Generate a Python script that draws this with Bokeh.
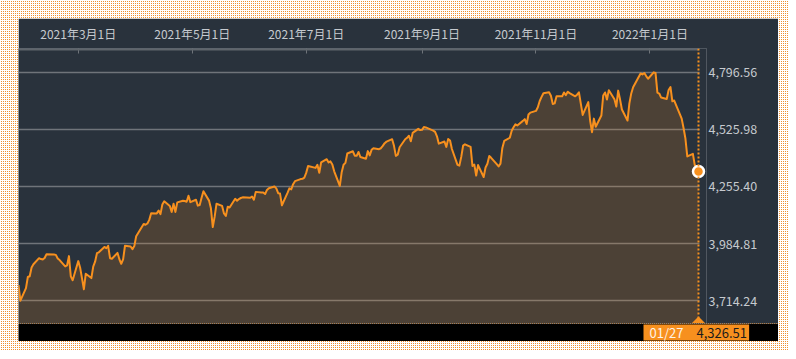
import pandas as pd
import numpy as np
from bokeh.plotting import figure
from bokeh.models import (Range1d, FixedTicker, NumeralTickFormatter, Span, Label,
                          BoxAnnotation, PolyAnnotation, ColumnDataSource)
from bokeh.layouts import column
from bokeh.embed import file_html
from bokeh.resources import INLINE

# ---------------- data ----------------
dates = [
    "2021-01-28", "2021-01-29",
    "2021-02-01", "2021-02-02", "2021-02-03", "2021-02-04", "2021-02-05", "2021-02-08", "2021-02-09", "2021-02-10", "2021-02-11", "2021-02-12",
    "2021-02-16", "2021-02-17", "2021-02-18", "2021-02-19", "2021-02-22", "2021-02-23", "2021-02-24", "2021-02-25", "2021-02-26",
    "2021-03-01", "2021-03-02", "2021-03-03", "2021-03-04", "2021-03-05", "2021-03-08", "2021-03-09", "2021-03-10", "2021-03-11", "2021-03-12",
    "2021-03-15", "2021-03-16", "2021-03-17", "2021-03-18", "2021-03-19", "2021-03-22", "2021-03-23", "2021-03-24", "2021-03-25", "2021-03-26",
    "2021-03-29", "2021-03-30", "2021-03-31",
    "2021-04-01", "2021-04-05", "2021-04-06", "2021-04-07", "2021-04-08", "2021-04-09", "2021-04-12", "2021-04-13", "2021-04-14", "2021-04-15",
    "2021-04-16", "2021-04-19", "2021-04-20", "2021-04-21", "2021-04-22", "2021-04-23", "2021-04-26", "2021-04-27", "2021-04-28", "2021-04-29",
    "2021-04-30",
    "2021-05-03", "2021-05-04", "2021-05-05", "2021-05-06", "2021-05-07", "2021-05-10", "2021-05-11", "2021-05-12", "2021-05-13", "2021-05-14",
    "2021-05-17", "2021-05-18", "2021-05-19", "2021-05-20", "2021-05-21", "2021-05-24", "2021-05-25", "2021-05-26", "2021-05-27", "2021-05-28",
    "2021-06-01", "2021-06-02", "2021-06-03", "2021-06-04", "2021-06-07", "2021-06-08", "2021-06-09", "2021-06-10", "2021-06-11", "2021-06-14",
    "2021-06-15", "2021-06-16", "2021-06-17", "2021-06-18", "2021-06-21", "2021-06-22", "2021-06-23", "2021-06-24", "2021-06-25", "2021-06-28",
    "2021-06-29", "2021-06-30",
    "2021-07-01", "2021-07-02", "2021-07-06", "2021-07-07", "2021-07-08", "2021-07-09", "2021-07-12", "2021-07-13", "2021-07-14", "2021-07-15",
    "2021-07-16", "2021-07-19", "2021-07-20", "2021-07-21", "2021-07-22", "2021-07-23", "2021-07-26", "2021-07-27", "2021-07-28", "2021-07-29",
    "2021-07-30",
    "2021-08-02", "2021-08-03", "2021-08-04", "2021-08-05", "2021-08-06", "2021-08-09", "2021-08-10", "2021-08-11", "2021-08-12", "2021-08-13",
    "2021-08-16", "2021-08-17", "2021-08-18", "2021-08-19", "2021-08-20", "2021-08-23", "2021-08-24", "2021-08-25", "2021-08-26", "2021-08-27",
    "2021-08-30", "2021-08-31",
    "2021-09-01", "2021-09-02", "2021-09-03", "2021-09-07", "2021-09-08", "2021-09-09", "2021-09-10", "2021-09-13", "2021-09-14", "2021-09-15",
    "2021-09-16", "2021-09-17", "2021-09-20", "2021-09-21", "2021-09-22", "2021-09-23", "2021-09-24", "2021-09-27", "2021-09-28", "2021-09-29",
    "2021-09-30",
    "2021-10-01", "2021-10-04", "2021-10-05", "2021-10-06", "2021-10-07", "2021-10-08", "2021-10-11", "2021-10-12", "2021-10-13", "2021-10-14",
    "2021-10-15", "2021-10-18", "2021-10-19", "2021-10-20", "2021-10-21", "2021-10-22", "2021-10-25", "2021-10-26", "2021-10-27", "2021-10-28",
    "2021-10-29",
    "2021-11-01", "2021-11-02", "2021-11-03", "2021-11-04", "2021-11-05", "2021-11-08", "2021-11-09", "2021-11-10", "2021-11-11", "2021-11-12",
    "2021-11-15", "2021-11-16", "2021-11-17", "2021-11-18", "2021-11-19", "2021-11-22", "2021-11-23", "2021-11-24", "2021-11-26", "2021-11-29",
    "2021-11-30",
    "2021-12-01", "2021-12-02", "2021-12-03", "2021-12-06", "2021-12-07", "2021-12-08", "2021-12-09", "2021-12-10", "2021-12-13", "2021-12-14",
    "2021-12-15", "2021-12-16", "2021-12-17", "2021-12-20", "2021-12-21", "2021-12-22", "2021-12-23", "2021-12-27", "2021-12-28", "2021-12-29",
    "2021-12-30", "2021-12-31",
    "2022-01-03", "2022-01-04", "2022-01-05", "2022-01-06", "2022-01-07", "2022-01-10", "2022-01-11", "2022-01-12", "2022-01-13", "2022-01-14",
    "2022-01-18", "2022-01-19", "2022-01-20", "2022-01-21", "2022-01-24", "2022-01-25", "2022-01-26", "2022-01-27",
]

closes = [
    3787.38, 3714.24,
    3773.86, 3826.31, 3830.17, 3871.74, 3886.83, 3915.59, 3911.23, 3909.88, 3916.38, 3934.83,
    3932.59, 3931.33, 3913.97, 3906.71, 3876.50, 3881.37, 3925.43, 3829.34, 3811.15,
    3901.82, 3870.29, 3819.72, 3768.47, 3841.94, 3821.35, 3875.44, 3898.81, 3939.34, 3943.34,
    3968.94, 3962.71, 3974.12, 3915.46, 3913.10, 3940.59, 3910.52, 3889.14, 3909.52, 3974.54,
    3971.09, 3958.55, 3972.89,
    4019.87, 4077.91, 4073.94, 4079.95, 4097.17, 4128.80, 4127.99, 4141.59, 4124.66, 4170.42,
    4185.47, 4163.26, 4134.94, 4173.42, 4134.98, 4180.17, 4187.62, 4186.72, 4183.18, 4211.47,
    4181.17,
    4192.66, 4164.66, 4167.59, 4201.62, 4232.60, 4188.43, 4152.10, 4063.04, 4112.50, 4173.85,
    4163.29, 4127.83, 4115.68, 4159.12, 4155.86, 4197.05, 4188.13, 4195.99, 4200.88, 4204.11,
    4202.04, 4208.12, 4192.85, 4229.89, 4226.52, 4227.26, 4219.55, 4239.18, 4247.44, 4255.15,
    4246.59, 4223.70, 4221.86, 4166.45, 4224.79, 4246.44, 4241.84, 4266.49, 4280.70, 4290.61,
    4291.80, 4297.50,
    4319.94, 4352.34, 4343.54, 4358.13, 4320.82, 4369.55, 4384.63, 4369.21, 4374.30, 4360.03,
    4327.16, 4258.49, 4323.06, 4358.69, 4367.48, 4411.79, 4422.30, 4401.46, 4400.64, 4419.15,
    4395.26,
    4387.16, 4423.15, 4402.66, 4429.10, 4436.52, 4432.35, 4436.75, 4447.70, 4460.83, 4468.00,
    4479.71, 4448.08, 4400.27, 4405.80, 4441.67, 4479.53, 4486.23, 4496.19, 4470.00, 4509.37,
    4528.79, 4522.68,
    4524.09, 4536.95, 4535.43, 4520.03, 4514.07, 4493.28, 4458.58, 4468.73, 4443.05, 4480.70,
    4473.75, 4432.99, 4357.73, 4354.19, 4395.64, 4448.98, 4455.48, 4443.11, 4352.63, 4359.46,
    4307.54,
    4357.04, 4300.46, 4345.72, 4363.55, 4399.76, 4391.34, 4361.19, 4350.65, 4363.80, 4438.26,
    4471.37, 4486.46, 4519.63, 4536.19, 4549.78, 4544.90, 4566.48, 4574.79, 4551.68, 4596.42,
    4605.38,
    4613.67, 4630.65, 4660.57, 4680.06, 4697.53, 4701.70, 4685.25, 4646.71, 4649.27, 4682.85,
    4682.80, 4700.90, 4688.67, 4704.54, 4697.96, 4682.94, 4690.70, 4701.46, 4594.62, 4655.27,
    4567.00,
    4513.04, 4577.10, 4538.43, 4591.67, 4686.75, 4701.21, 4667.45, 4712.02, 4668.97, 4634.09,
    4709.85, 4668.67, 4620.64, 4568.02, 4649.23, 4696.56, 4725.79, 4791.19, 4786.35, 4793.06,
    4778.73, 4766.18,
    4796.56, 4793.54, 4700.58, 4696.05, 4677.03, 4670.29, 4713.07, 4726.35, 4659.03, 4662.85,
    4577.11, 4532.76, 4482.73, 4397.94, 4410.13, 4356.45, 4349.93, 4326.51,
]

x_tick_dates = ["2021-03-01", "2021-05-01", "2021-07-01", "2021-09-01", "2021-11-01", "2022-01-01"]
x_tick_labels = ["2021年3月1日", "2021年5月1日", "2021年7月1日", "2021年9月1日", "2021年11月1日", "2022年1月1日"]
y_ticks = [3714.24, 3984.81, 4255.40, 4525.98, 4796.56]

assert len(dates) == len(closes)

# ---------------- styles ----------------
BG = "#29323c"
ORANGE = "#f7901e"
GRID = "#6f747a"
AXIS = "#5f656b"
TXT = "#c6cacf"
FONT = "Noto Sans CJK JP"

def to_ms(s):
    return (pd.to_datetime(s).astype("int64") // 10**6).astype(float).tolist()

x_ms = to_ms(dates)
tick_ms = to_ms(x_tick_dates)

x0, x1 = x_ms[0], x_ms[-1]
vmin, vmax = min(closes), max(closes)
pad = 0.1 * (vmax - vmin)
y_lo, y_hi = vmin - pad, vmax + pad

DATA_W = 680       # pixels from first to last date
EXT = 8            # extra frame pixels right of the last date (room for the marker)
FRAME_H = 275
FIG_W = 760

mspp = (x1 - x0) / DATA_W          # x data units per pixel
upp = (y_hi - y_lo) / FRAME_H      # y data units per pixel

src = ColumnDataSource(dict(x=x_ms, y=closes))

p = figure(width=FIG_W, height=305, x_axis_type="datetime",
           x_axis_location="above", y_axis_location="right",
           x_range=Range1d(x0, x1 + EXT * mspp),
           y_range=Range1d(y_lo, y_hi + upp),
           output_backend="svg", toolbar_location=None,
           min_border_left=0, min_border_right=FIG_W - DATA_W - EXT,
           min_border_top=30, min_border_bottom=0)
p.background_fill_color = BG
p.border_fill_color = BG
p.outline_line_color = None
p.frame_align = False

# x axis (top); its line is drawn below as a thin band ending at the last date
xa = p.xaxis[0]
xa.ticker = FixedTicker(ticks=tick_ms)
xa.major_label_overrides = {t: lab for t, lab in zip(tick_ms, x_tick_labels)}
xa.axis_line_color = None
xa.major_tick_in = 5
xa.major_tick_out = 0
xa.major_tick_line_color = "#6f747a"
xa.minor_tick_line_color = None
xa.major_label_standoff = 7
xa.major_label_text_color = TXT
xa.major_label_text_font = FONT
xa.major_label_text_font_size = "12px"
p.xgrid.visible = False

# y axis (right)
ya = p.yaxis[0]
yt = FixedTicker(ticks=y_ticks)
ya.ticker = yt
ya.formatter = NumeralTickFormatter(format="0,0.00")
ya.axis_line_color = None
ya.major_tick_line_color = None
ya.minor_tick_line_color = None
ya.major_tick_in = 0
ya.major_tick_out = 0
ya.major_label_standoff = 2
ya.major_label_text_color = TXT
ya.major_label_text_font = FONT
ya.major_label_text_font_size = "12.5px"
p.ygrid.ticker = yt
p.ygrid.grid_line_color = GRID
p.ygrid.grid_line_width = 1.5

# area + line
p.varea(x="x", y1=y_lo, y2="y", source=src, fill_color=ORANGE, fill_alpha=0.17)
p.line(x="x", y="y", source=src, line_color=ORANGE, line_width=2, line_join="round")

# hide grid beyond the last date
p.add_layout(BoxAnnotation(left=x1 + 1.0 * mspp, fill_color=BG, fill_alpha=1,
                           line_color=None, level="underlay"))
# top axis line, from the first to the last date
p.add_layout(BoxAnnotation(left=x0, right=x1, bottom=y_hi + upp - 2 * upp,
                           fill_color=AXIS, fill_alpha=1, line_color=None))

# current-value guide
p.add_layout(Span(location=x1, dimension="height", line_color=ORANGE,
                  line_dash="2 2", line_width=2))
p.add_layout(PolyAnnotation(xs=[x1 - 7 * mspp, x1, x1 + 7 * mspp],
                            ys=[y_lo, y_lo + 7 * upp, y_lo],
                            fill_color=ORANGE, fill_alpha=1, line_color=None))
p.scatter(x=[x1], y=[closes[-1]], size=11, fill_color=ORANGE,
          line_color="white", line_width=2.5)

# ---------------- bottom bar ----------------
pb = figure(width=FIG_W, height=18, x_range=Range1d(x0, x0 + FIG_W * mspp),
            y_range=Range1d(0, 18), x_axis_location=None, y_axis_location=None,
            output_backend="svg", toolbar_location=None,
            min_border_left=0, min_border_right=0,
            min_border_top=0, min_border_bottom=0)
pb.background_fill_color = "black"
pb.border_fill_color = "black"
pb.outline_line_color = None
pb.grid.visible = False
pb.frame_align = False

pb.add_layout(BoxAnnotation(left=x1 - 55 * mspp, right=x1 + 50.6 * mspp, bottom=1, top=17,
                            fill_color=ORANGE, fill_alpha=1, line_color=None))
date_txt = pd.to_datetime(dates[-1]).strftime("%m/%d")
val_txt = f"{closes[-1]:,.2f}"
pb.add_layout(Label(x=x1, y=9, x_offset=-49, text=date_txt, text_align="left",
                    text_baseline="middle", text_color="#fff3e6", text_font=FONT,
                    text_font_size="13px"))
pb.add_layout(Label(x=x1, y=9, x_offset=-2, text=val_txt, text_align="left",
                    text_baseline="middle", text_color="#1c1c1c", text_font=FONT,
                    text_font_size="13px"))

root = column(p, pb, spacing=0, styles={
    "padding": "26px 10px 10px 26px",
    "margin": "-8px",
    "background-color": "#ffffff",
    "background-image": "linear-gradient(to right, #ffffff 1px, transparent 1px), "
                        "linear-gradient(to bottom, #ffffff 1px, #f0902f 1px)",
    "background-size": "2px 2px",
})

open("out.html", "w").write(file_html(root, INLINE))
